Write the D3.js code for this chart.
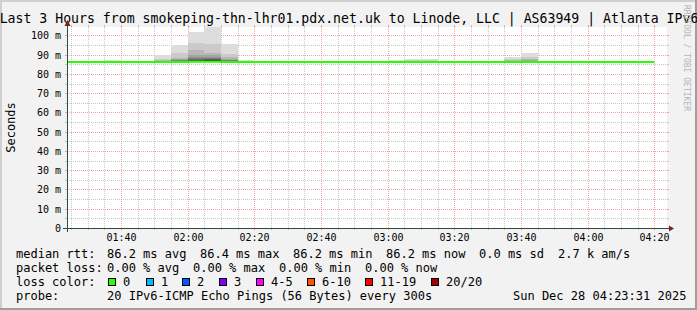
<!DOCTYPE html>
<html>
<head>
<meta charset="utf-8">
<script src="https://cdn.jsdelivr.net/npm/d3@7"></script>
<style>
  body { margin: 0; background: #ffffff; }
  svg { display: block; }
  text { font-family: "DejaVu Sans Mono", monospace; }
</style>
</head>
<body>
<div id="chart"></div>
<script>
// data to display
const titleText = 'Last 3 Hours from smokeping-thn-lhr01.pdx.net.uk to Linode, LLC | AS63949 | Atlanta IPv6';
const rangeStart = '01:23:48';
const rangeEnd = '04:23:48';

// 5 minute slots (end time of each step)
const slotEnds = ['01:25', '01:30', '01:35', '01:40', '01:45', '01:50', '01:55', '02:00', '02:05',
    '02:10', '02:15', '02:20', '02:25', '02:30', '02:35', '02:40', '02:45', '02:50', '02:55',
    '03:00', '03:05', '03:10', '03:15', '03:20', '03:25', '03:30', '03:35', '03:40', '03:45',
    '03:50', '03:55', '04:00', '04:05', '04:10', '04:15', '04:20'];
const medianRtt = [86.2, 86.2, 86.2, 86.2, 86.2, 86.2, 86.2, 86.2, 86.3,
    86.4, 86.2, 86.2, 86.2, 86.2, 86.2, 86.2, 86.2, 86.2, 86.2,
    86.2, 86.2, 86.2, 86.2, 86.2, 86.2, 86.2, 86.2, 86.2, 86.2,
    86.2, 86.2, 86.2, 86.2, 86.2, 86.2, 86.2];
const lossCount = [0, 0, 0, 0, 0, 0, 0, 0, 0, 0, 0, 0, 0, 0, 0, 0, 0, 0, 0,
    0, 0, 0, 0, 0, 0, 0, 0, 0, 0, 0, 0, 0, 0, 0, 0, 0];

// slots with visible smoke: 20 sorted pings each (ms)
const smokeSlots = ['01:40', '01:55', '02:00', '02:05', '02:10', '02:15', '02:20',
    '03:05', '03:10', '03:15', '03:40', '03:45'];
const smokePings = [
    [85.9, 86.0, 86.0, 86.1, 86.1, 86.1, 86.1, 86.2, 86.2, 86.2, 86.2, 86.2, 86.3, 86.3, 86.3, 86.4, 86.5, 86.6, 86.8, 87.2],
    [85.9, 86.0, 86.0, 86.1, 86.1, 86.1, 86.2, 86.2, 86.2, 86.2, 86.3, 86.4, 86.5, 86.6, 86.7, 86.8, 86.9, 87.2, 88.0, 90.0],
    [85.9, 86.0, 86.0, 86.1, 86.1, 86.1, 86.2, 86.2, 86.2, 86.3, 86.4, 86.5, 86.7, 86.9, 87.1, 87.4, 87.8, 88.5, 90.7, 95.2],
    [86.0, 86.0, 86.1, 86.1, 86.2, 86.2, 86.2, 86.3, 86.3, 86.4, 86.6, 87.0, 87.4, 87.8, 88.3, 88.8, 89.7, 92.3, 96.0, 101.8],
    [86.0, 86.1, 86.1, 86.2, 86.2, 86.3, 86.3, 86.4, 86.5, 86.6, 86.8, 87.2, 87.6, 88.0, 88.4, 89.0, 89.8, 91.0, 95.7, 105.5],
    [85.9, 86.0, 86.0, 86.1, 86.1, 86.1, 86.2, 86.2, 86.2, 86.3, 86.4, 86.5, 86.7, 86.9, 87.2, 87.5, 87.9, 88.6, 90.2, 95.4],
    [85.9, 86.0, 86.0, 86.1, 86.1, 86.1, 86.1, 86.2, 86.2, 86.2, 86.2, 86.2, 86.3, 86.3, 86.3, 86.4, 86.5, 86.7, 86.9, 87.3],
    [85.9, 86.0, 86.0, 86.1, 86.1, 86.1, 86.1, 86.2, 86.2, 86.2, 86.2, 86.2, 86.3, 86.3, 86.3, 86.4, 86.5, 86.6, 86.8, 87.3],
    [85.9, 86.0, 86.0, 86.1, 86.1, 86.1, 86.1, 86.2, 86.2, 86.2, 86.2, 86.3, 86.3, 86.4, 86.4, 86.5, 86.6, 86.8, 87.1, 87.8],
    [85.9, 86.0, 86.0, 86.1, 86.1, 86.1, 86.1, 86.2, 86.2, 86.2, 86.2, 86.3, 86.3, 86.4, 86.5, 86.6, 86.8, 87.0, 87.3, 87.8],
    [85.9, 86.0, 86.0, 86.1, 86.1, 86.1, 86.2, 86.2, 86.2, 86.2, 86.3, 86.3, 86.4, 86.5, 86.6, 86.7, 86.9, 87.2, 87.8, 89.0],
    [85.9, 86.0, 86.0, 86.1, 86.1, 86.1, 86.2, 86.2, 86.2, 86.2, 86.3, 86.4, 86.5, 86.6, 86.7, 86.9, 87.2, 87.7, 88.6, 90.8]
];

// y axis
const yMax = 104.4;
const yTicks = [0, 10, 20, 30, 40, 50, 60, 70, 80, 90, 100];
const yTickLabels = ['0', '10 m', '20 m', '30 m', '40 m', '50 m', '60 m', '70 m', '80 m', '90 m', '100 m'];

// legend
const lossLabels = ['0', '1', '2', '3', '4-5', '6-10', '11-19', '20/20'];
const lossColors = ['#26ff00', '#00b8ff', '#0059ff', '#7e00ff', '#ff00ff', '#ff5500', '#ff0000', '#a10000'];
const rttLegend = ['86.2 ms avg', '86.4 ms max', '86.2 ms min', '86.2 ms now', '0.0 ms sd', '2.7 k am/s'];
const lossLegend = ['0.00 % avg', '0.00 % max', '0.00 % min', '0.00 % now'];
const probeText = '20 IPv6-ICMP Echo Pings (56 Bytes) every 300s';
const stampText = 'Sun Dec 28 04:23:31 2025';

// Measures
const width = 697;
const height = 310;
const plotLeft = 67;
const plotRight = 667;
const plotTop = 27;
const plotBottom = 228;

// Colors
const backColor = '#f2f2f2';
const canvasColor = '#ffffff';
const gridColor = 'rgba(143,143,143,0.5)';
const mgridColor = 'rgba(222,80,80,0.5)';
const axisColor = '#2c4d43';
const arrowColor = '#7f1f1f';

function toDate(hms) {
    const p = hms.split(':').map(Number);
    return new Date(2025, 11, 28, p[0], p[1], p[2] || 0);
}

const x = d3.scaleTime()
    .domain([toDate(rangeStart), toDate(rangeEnd)])
    .range([plotLeft, plotRight]);
const y = d3.scaleLinear()
    .domain([0, yMax])
    .range([plotBottom, plotTop]);

const svg = d3.select('#chart').append('svg')
    .attr('width', width)
    .attr('height', height);

drawFrame();
drawGrid();
drawSmoke();
drawMedian();
drawAxes();
drawLegend();

// background, 3D border, title
function drawFrame() {
    svg.append('rect').attr('width', width).attr('height', height).attr('fill', backColor);
    svg.append('path').attr('d', `M0,0H${width}V2H2V${height}H0Z`).attr('fill', '#cfcfcf');
    svg.append('path').attr('d', `M${width},0V${height}H0V${height - 2}H${width - 2}V0Z`).attr('fill', '#9e9e9e');
    svg.append('rect')
        .attr('x', plotLeft).attr('y', plotTop)
        .attr('width', plotRight - plotLeft).attr('height', plotBottom - plotTop)
        .attr('fill', canvasColor);
    svg.append('text')
        .text(titleText)
        .attr('x', width / 2 + 0.5).attr('y', 23)
        .attr('text-anchor', 'middle')
        .attr('font-size', 13.2)
        .attr('fill', '#000');
    svg.append('text')
        .text('RRDTOOL / TOBI OETIKER')
        .attr('transform', 'translate(684,5) rotate(90)')
        .attr('font-size', 8)
        .attr('fill', '#b5b5b5');
    svg.append('text')
        .text('Seconds')
        .attr('transform', `translate(15,${(plotTop + plotBottom) / 2}) rotate(-90)`)
        .attr('text-anchor', 'middle')
        .attr('font-size', 12)
        .attr('fill', '#000');
}

function drawGrid() {
    const g = svg.append('g').attr('shape-rendering', 'crispEdges');
    // horizontal minor (5 ms) and major (10 ms)
    const minorY = d3.range(0, yMax, 5).filter(v => v % 10 !== 0);
    minorY.forEach(v => hLine(g, v, gridColor));
    yTicks.forEach(v => hLine(g, v, mgridColor));
    // vertical minor (5 min) and major (20 min)
    x.ticks(d3.timeMinute.every(5)).forEach(t => {
        const major = t.getMinutes() % 20 === 0;
        vLine(g, t, major ? mgridColor : gridColor);
    });
}

function hLine(g, v, color) {
    const yy = Math.round(y(v)) + 0.5;
    g.append('line').attr('x1', plotLeft - 2).attr('x2', plotLeft).attr('y1', yy).attr('y2', yy)
        .attr('stroke', color);
    g.append('line').attr('x1', plotRight).attr('x2', plotRight + 2).attr('y1', yy).attr('y2', yy)
        .attr('stroke', color);
    if (v > 0) {
        g.append('line').attr('x1', plotLeft).attr('x2', plotRight).attr('y1', yy).attr('y2', yy)
            .attr('stroke', color).attr('stroke-dasharray', '1,1');
    }
}

function vLine(g, t, color) {
    const xx = Math.round(x(t)) + 0.5;
    g.append('line').attr('x1', xx).attr('x2', xx).attr('y1', plotBottom).attr('y2', plotBottom + 2)
        .attr('stroke', color);
    g.append('line').attr('x1', xx).attr('x2', xx).attr('y1', plotTop - 2).attr('y2', plotTop)
        .attr('stroke', color);
    g.append('line').attr('x1', xx).attr('x2', xx).attr('y1', plotTop).attr('y2', plotBottom)
        .attr('stroke', color).attr('stroke-dasharray', '1,1');
}

// smokeping style grey bands, outer band lightest
function drawSmoke() {
    svg.append('clipPath').attr('id', 'plotClip')
        .append('rect')
        .attr('x', plotLeft).attr('y', plotTop)
        .attr('width', plotRight - plotLeft).attr('height', plotBottom - plotTop);
    const g = svg.append('g').attr('clip-path', 'url(#plotClip)').attr('shape-rendering', 'crispEdges');
    smokeSlots.forEach((slot, s) => {
        const pings = smokePings[s];
        const half = pings.length / 2;
        const t1 = toDate(slot);
        const t0 = d3.timeMinute.offset(t1, -5);
        for (let i = 1; i <= half; i++) {
            const lo = pings[i - 1];
            const hi = pings[pings.length - i];
            const lum = Math.floor(190 / half * (half - i)) + 50;
            g.append('rect')
                .attr('x', Math.round(x(t0)))
                .attr('width', Math.round(x(t1)) - Math.round(x(t0)))
                .attr('y', y(hi))
                .attr('height', Math.max(0, y(lo) - y(hi)))
                .attr('fill', d3.rgb(lum, lum, lum));
        }
    });
}

function drawMedian() {
    const pts = [{t: d3.timeMinute.offset(toDate(slotEnds[0]), -5), v: medianRtt[0]}]
        .concat(slotEnds.map((s, i) => ({t: toDate(s), v: medianRtt[i]})));
    const line = d3.line()
        .x(d => x(d.t))
        .y(d => y(d.v))
        .curve(d3.curveStepBefore);
    svg.append('path')
        .datum(pts)
        .attr('clip-path', 'url(#plotClip)')
        .attr('d', line)
        .attr('fill', 'none')
        .attr('stroke', lossColors[d3.max(lossCount)])
        .attr('stroke-width', 2);
}

function drawAxes() {
    const g = svg.append('g');
    // y labels
    yTicks.forEach((v, i) => {
        g.append('text')
            .text(yTickLabels[i])
            .attr('x', 61).attr('y', Math.round(y(v)) + 4)
            .attr('text-anchor', 'end')
            .attr('font-size', 10)
            .attr('fill', '#000');
    });
    // x labels
    x.ticks(d3.timeMinute.every(20)).forEach(t => {
        g.append('text')
            .text(d3.timeFormat('%H:%M')(t))
            .attr('x', Math.round(x(t)) + 0.5).attr('y', 241)
            .attr('text-anchor', 'middle')
            .attr('font-size', 10)
            .attr('fill', '#000');
    });
    // axis lines
    g.append('line').attr('x1', plotLeft - 4).attr('x2', plotRight + 4)
        .attr('y1', plotBottom + 0.5).attr('y2', plotBottom + 0.5)
        .attr('stroke', axisColor);
    g.append('line').attr('x1', plotLeft + 0.5).attr('x2', plotLeft + 0.5)
        .attr('y1', plotBottom + 4).attr('y2', plotTop - 4)
        .attr('stroke', axisColor);
    // arrows
    g.append('path')
        .attr('d', `M${plotRight + 2},${plotBottom - 2.5}L${plotRight + 7},${plotBottom + 0.5}L${plotRight + 2},${plotBottom + 3.5}Z`)
        .attr('fill', arrowColor);
    g.append('path')
        .attr('d', `M${plotLeft - 2.5},${plotTop - 1}L${plotLeft + 0.5},${plotTop - 7}L${plotLeft + 3.5},${plotTop - 1}Z`)
        .attr('fill', arrowColor);
}

function drawLegend() {
    const g = svg.append('g').attr('font-size', 12).attr('fill', '#000');
    const rowY = [257.5, 271.5, 285.5, 299.5];
    const rttX = [107, 200, 293, 386, 479, 558];
    const lossX = [107, 193, 279, 365];
    const boxX = [108, 146, 182, 219, 256, 307, 365, 431];

    g.append('text').text('median rtt:').attr('x', 16).attr('y', rowY[0]);
    rttLegend.forEach((s, i) => g.append('text').text(s).attr('x', rttX[i]).attr('y', rowY[0]));

    g.append('text').text('packet loss:').attr('x', 16).attr('y', rowY[1]);
    lossLegend.forEach((s, i) => g.append('text').text(s).attr('x', lossX[i]).attr('y', rowY[1]));

    g.append('text').text('loss color:').attr('x', 16).attr('y', rowY[2]);
    lossLabels.forEach((s, i) => {
        g.append('rect')
            .attr('x', boxX[i] + 0.5).attr('y', 278.5)
            .attr('width', 7).attr('height', 7)
            .attr('fill', lossColors[i])
            .attr('stroke', '#000');
        g.append('text').text(s).attr('x', boxX[i] + 15).attr('y', rowY[2]);
    });

    g.append('text').text('probe:').attr('x', 16).attr('y', rowY[3]);
    g.append('text').text(probeText).attr('x', 107).attr('y', rowY[3]);
    g.append('text').text(stampText).attr('x', 513).attr('y', rowY[3]);
}
</script>
</body>
</html>
